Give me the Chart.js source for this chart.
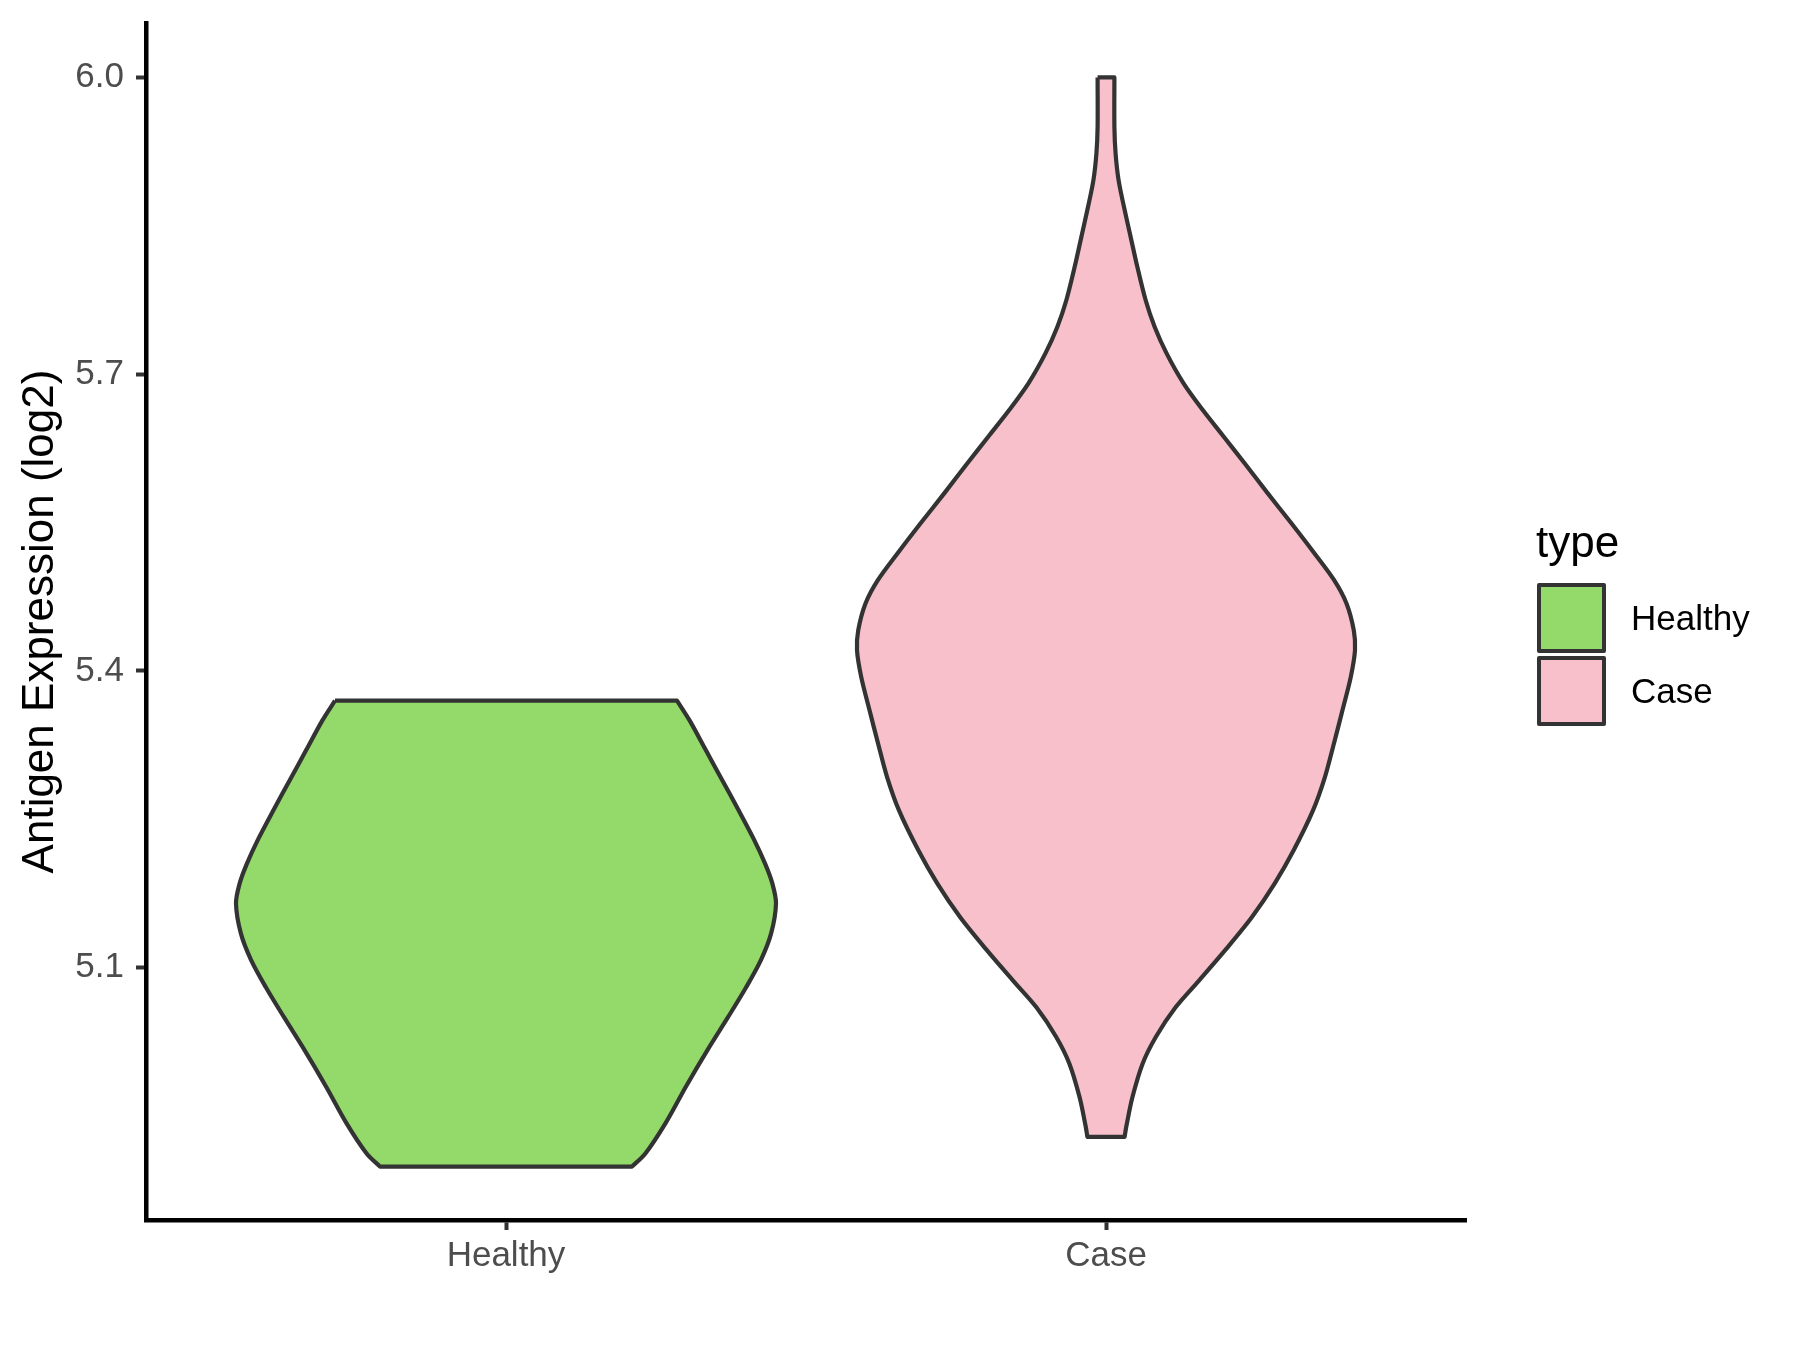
<!DOCTYPE html>
<html>
<head>
<meta charset="utf-8">
<script src="https://cdn.jsdelivr.net/npm/chart.js@4.4.1/dist/chart.umd.min.js"></script>
<style>
  html, body { margin: 0; padding: 0; background: #ffffff; }
  #wrap { position: relative; width: 1800px; height: 1350px; }
  #c { position: absolute; left: 0; top: 0; }
  .lg { position: absolute; font-family: "Liberation Sans", Arial, sans-serif; color: #000; white-space: nowrap; }
  .key { position: absolute; box-sizing: border-box; border: 4px solid #333333; border-radius: 2px; }
</style>
</head>
<body>
<div id="wrap">
  <canvas id="c" width="1800" height="1350"></canvas>
  <div id="legend"></div>
</div>
<script>
// ---- data ----
const categories = ['Healthy', 'Case'];
const fillColors = ['#93DA6A', '#F7C0CB'];
const legendTitle = 'type';
const yAxisTitle = 'Antigen Expression (log2)';
const yTicks = [5.1, 5.4, 5.7, 6.0];

// Healthy violin: density profile (value, half-width in category units), top to bottom
const healthyY = [5.370, 5.350, 5.320, 5.290, 5.260, 5.230, 5.205, 5.185, 5.165, 5.135, 5.108, 5.080, 5.050, 5.017, 4.980, 4.943, 4.912, 4.899];
const healthyHalfWidth = [0.285, 0.306, 0.333, 0.360, 0.387, 0.413, 0.432, 0.444, 0.450, 0.442, 0.425, 0.400, 0.370, 0.336, 0.300, 0.266, 0.232, 0.210];

// Case violin: density profile, top to bottom
const caseY = [6.000, 5.950, 5.923, 5.896, 5.869, 5.839, 5.809, 5.775, 5.748, 5.721, 5.691, 5.664, 5.637, 5.610, 5.580, 5.550, 5.520, 5.492, 5.468, 5.441, 5.421, 5.394, 5.360, 5.327, 5.293, 5.259, 5.219, 5.185, 5.151, 5.118, 5.087, 5.060, 5.030, 5.003, 4.969, 4.940, 4.929];
const caseHalfWidth = [0.014, 0.014, 0.016, 0.021, 0.030, 0.041, 0.052, 0.066, 0.081, 0.101, 0.129, 0.161, 0.196, 0.231, 0.269, 0.308, 0.346, 0.380, 0.401, 0.413, 0.415, 0.408, 0.394, 0.380, 0.365, 0.345, 0.313, 0.281, 0.243, 0.199, 0.155, 0.116, 0.083, 0.061, 0.044, 0.034, 0.031];

const yMin = 4.845, yMax = 6.055;

// ---- build violin outlines (closed polygons, corner vertices repeated so flat ends stay flat) ----
function violin(center, ys, hws) {
  const n = ys.length;
  const pts = [];
  pts.push({ x: center - hws[0], y: ys[0] });
  for (let i = 0; i < n; i++) pts.push({ x: center - hws[i], y: ys[i] });
  pts.push({ x: center - hws[n - 1], y: ys[n - 1] });
  pts.push({ x: center + hws[n - 1], y: ys[n - 1] });
  for (let i = n - 1; i >= 0; i--) pts.push({ x: center + hws[i], y: ys[i] });
  pts.push({ x: center + hws[0], y: ys[0] });
  pts.push({ x: center - hws[0], y: ys[0] });
  return pts;
}
const profiles = [[healthyY, healthyHalfWidth], [caseY, caseHalfWidth]];

const FONT = '"Liberation Sans", Arial, sans-serif';
Chart.defaults.font.family = FONT;

const datasets = categories.map((name, i) => ({
  label: name,
  data: violin(i, profiles[i][0], profiles[i][1]),
  showLine: true,
  fill: 'shape',
  backgroundColor: fillColors[i],
  borderColor: '#333333',
  borderWidth: 4.2,
  borderJoinStyle: 'round',
  pointRadius: 0,
  tension: 0.3
}));

new Chart(document.getElementById('c'), {
  type: 'scatter',
  data: { datasets },
  options: {
    responsive: false,
    animation: false,
    events: [],
    layout: { padding: { left: 0, right: 334, top: 23, bottom: 0 } },
    plugins: { legend: { display: false }, tooltip: { enabled: false } },
    scales: {
      x: {
        type: 'linear',
        min: -0.6,
        max: 1.6,
        afterBuildTicks: (s) => { s.ticks = categories.map((_, i) => ({ value: i })); },
        afterFit: (s) => { s.height = 130; s.paddingLeft = 0; s.paddingRight = 0; },
        ticks: {
          callback: (v) => categories[v],
          color: '#4D4D4D',
          font: { size: 35 },
          padding: 5,
          maxRotation: 0,
          autoSkip: false
        },
        grid: { drawOnChartArea: false, drawTicks: true, tickLength: 10, tickColor: '#333333', tickWidth: 4 },
        border: { display: true, color: '#000000', width: 4.5 }
      },
      y: {
        type: 'linear',
        min: yMin,
        max: yMax,
        afterBuildTicks: (s) => { s.ticks = yTicks.map(v => ({ value: v })); },
        afterFit: (s) => { s.width = 146; s.paddingTop = 0; s.paddingBottom = 0; },
        ticks: {
          callback: (v) => Number(v).toFixed(1),
          color: '#4D4D4D',
          font: { size: 35 },
          padding: 12
        },
        grid: { drawOnChartArea: false, drawTicks: true, tickLength: 10, tickColor: '#333333', tickWidth: 4 },
        border: { display: true, color: '#000000', width: 4.5 },
        title: {
          display: true,
          text: yAxisTitle,
          color: '#000000',
          font: { size: 44 },
          padding: { top: 14, bottom: 0 }
        }
      }
    }
  }
});

// ---- legend (HTML) ----
const lg = document.getElementById('legend');
const t = document.createElement('div');
t.className = 'lg';
t.textContent = legendTitle;
t.style.cssText = 'left:1536px; top:515px; font-size:44px; line-height:54px;';
lg.appendChild(t);
categories.forEach((name, i) => {
  const k = document.createElement('div');
  k.className = 'key';
  k.style.cssText = `left:1537px; top:${583 + i * 73}px; width:69px; height:70px; background:${fillColors[i]};`;
  lg.appendChild(k);
  const l = document.createElement('div');
  l.className = 'lg';
  l.textContent = name;
  l.style.cssText = `left:1631px; top:${583 + i * 73}px; height:70px; line-height:70px; font-size:35px;`;
  lg.appendChild(l);
});
</script>
</body>
</html>
